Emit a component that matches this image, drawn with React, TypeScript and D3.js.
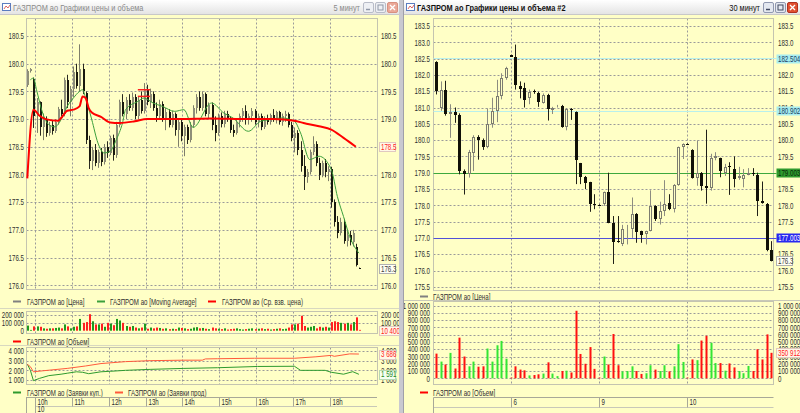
import React from "react";
import * as d3 from "d3";

// ================= LEFT WINDOW: 5-minute bars =================
const leftStartMinute = 9 * 60 + 45; // time of bar 0
const leftBarMinutes = 5;
const leftHours = [10, 11, 12, 13, 14, 15, 16, 17, 18];
const leftHourLabels = ["10h", "11h", "12h", "13h", "14h", "15h", "16h", "17h", "18h"];
const leftDayLabel = "10";

const leftOpen = [
  179.62, 179.86, 179.72, 179.05, 179.3, 178.85, 179.0, 178.75, 178.9, 178.78,
  178.95, 179.18, 179.1, 179.7, 179.3, 179.55, 179.85, 179.6, 179.9, 179.47,
  178.62, 178.25, 178.45, 178.2, 178.4, 178.22, 178.5, 178.38, 178.65, 178.35,
  178.9, 179.3, 179.1, 179.35, 179.2, 179.4, 179.05, 179.35, 179.15, 179.55,
  179.3, 179.45, 179.2, 179.05, 179.28, 179.0, 179.12, 178.9, 179.1, 178.8,
  178.95, 178.7, 178.85, 178.62, 178.9, 179.2, 179.4, 179.2, 179.45, 179.1,
  179.25, 178.9, 178.75, 179.05, 178.92, 179.1, 179.0, 178.8, 178.75, 178.95,
  179.05, 179.15, 179.0, 179.05, 179.15, 178.95, 179.05, 178.85, 179.0, 178.95,
  179.08, 179.0, 179.12, 178.95, 179.05, 179.1, 178.9, 178.65, 178.75, 178.45,
  178.15, 177.95, 178.05, 178.4, 178.55, 178.2, 178.0, 178.2, 178.05, 178.1,
  177.5, 177.15, 176.95, 177.15, 176.8, 176.9, 176.78, 176.7, 176.32,
];
const leftHigh = [
  179.9, 179.92, 179.75, 179.38, 179.32, 179.1, 179.05, 178.95, 178.98, 179.0,
  179.22, 179.35, 179.75, 179.8, 179.6, 179.95, 180.0, 180.35, 180.0, 179.5,
  178.7, 178.5, 178.55, 178.45, 178.48, 178.55, 178.6, 178.7, 178.72, 178.95,
  179.35, 179.45, 179.4, 179.45, 179.48, 179.45, 179.4, 179.5, 179.65, 179.62,
  179.55, 179.5, 179.3, 179.35, 179.32, 179.2, 179.18, 179.15, 179.12, 179.0,
  179.0, 178.9, 178.9, 178.95, 179.25, 179.45, 179.5, 179.5, 179.48, 179.3,
  179.3, 179.05, 179.1, 179.12, 179.15, 179.15, 179.05, 178.9, 179.0, 179.1,
  179.2, 179.25, 179.1, 179.2, 179.18, 179.1, 179.1, 179.05, 179.08, 179.1,
  179.18, 179.15, 179.15, 179.1, 179.15, 179.12, 178.95, 178.85, 178.8, 178.6,
  178.35, 178.1, 178.45, 178.69, 178.6, 178.3, 178.25, 178.28, 178.15, 178.14,
  177.55, 177.25, 177.22, 177.2, 176.98, 176.98, 177.0, 176.75, 176.32,
];
const leftLow = [
  179.58, 179.84, 178.84, 178.75, 178.7, 178.62, 178.68, 178.7, 178.72, 178.75,
  178.9, 179.05, 179.05, 179.2, 179.05, 179.4, 179.55, 179.5, 179.45, 178.55,
  178.1, 178.08, 178.15, 178.12, 178.15, 178.18, 178.3, 178.35, 178.25, 178.3,
  178.85, 179.05, 179.0, 179.15, 179.15, 179.0, 179.0, 179.1, 179.1, 179.25,
  179.2, 179.15, 178.95, 179.0, 178.95, 178.8, 178.85, 178.85, 178.7, 178.5,
  178.6, 178.33, 178.55, 178.58, 178.85, 179.1, 179.15, 179.15, 179.05, 179.0,
  178.8, 178.6, 178.7, 178.85, 178.85, 178.95, 178.75, 178.68, 178.72, 178.85,
  178.95, 178.9, 178.9, 178.95, 178.9, 178.85, 178.8, 178.82, 178.9, 178.9,
  178.95, 178.92, 178.9, 178.88, 178.95, 178.85, 178.6, 178.4, 178.35, 178.05,
  177.72, 177.85, 178.0, 178.35, 178.15, 177.9, 177.95, 177.95, 177.88, 177.4,
  177.06, 176.85, 176.9, 176.75, 176.7, 176.72, 176.7, 176.34, 176.3,
];
const leftClose = [
  179.86, 179.9, 179.05, 179.3, 178.85, 179.0, 178.75, 178.9, 178.78, 178.95,
  179.18, 179.1, 179.7, 179.3, 179.55, 179.85, 179.6, 179.9, 179.5, 178.62,
  178.25, 178.45, 178.2, 178.4, 178.22, 178.5, 178.38, 178.65, 178.35, 178.9,
  179.3, 179.1, 179.35, 179.2, 179.4, 179.05, 179.35, 179.15, 179.55, 179.3,
  179.45, 179.2, 179.05, 179.28, 179.0, 179.12, 178.9, 179.1, 178.8, 178.95,
  178.7, 178.85, 178.62, 178.9, 179.2, 179.4, 179.2, 179.45, 179.1, 179.25,
  178.9, 178.75, 179.05, 178.92, 179.1, 179.0, 178.8, 178.75, 178.95, 179.05,
  179.15, 178.98, 179.05, 179.15, 178.95, 179.05, 178.85, 179.0, 178.95, 179.08,
  179.0, 179.12, 178.95, 179.05, 179.1, 178.9, 178.65, 178.75, 178.45, 178.15,
  177.95, 178.05, 178.4, 178.55, 178.2, 178.0, 178.2, 178.05, 178.1, 177.5,
  177.15, 176.95, 177.15, 176.8, 176.9, 176.78, 176.95, 176.36, 176.3,
];
const leftVolumeK = [
  65, 10, 55, 55, 50, 30, 25, 30, 30, 35,
  40, 30, 80, 55, 30, 50, 55, 150, 100, 110,
  210, 120, 80, 80, 90, 50, 100, 90, 70, 150,
  130, 100, 60, 50, 60, 40, 30, 40, 90, 25,
  40, 30, 40, 35, 25, 30, 20, 25, 20, 40,
  35, 30, 20, 25, 40, 45, 30, 35, 25, 20,
  40, 30, 25, 20, 30, 15, 20, 25, 30, 20,
  15, 20, 25, 30, 20, 25, 30, 20, 25, 15,
  20, 25, 30, 20, 25, 40, 80, 80, 90, 190,
  60, 40, 50, 60, 30, 50, 40, 50, 40, 110,
  120, 110, 100, 90, 100, 80, 110, 170, 10.4,
];
// Moving average (read points: bar index, value)
const maBars = [1, 2, 3, 5, 7, 9, 11, 13, 15, 17, 18, 19, 21, 23, 25, 27, 29, 31, 32, 36, 38, 41, 44, 48, 51, 54, 60, 64, 67, 72, 76, 79, 83, 87, 89, 92, 95, 99, 101, 103, 105, 108];
const maValues = [179.71, 179.74, 179.53, 179.11, 178.9, 178.86, 178.99, 179.23, 179.38, 179.5, 179.53, 179.38, 178.99, 178.57, 178.39, 178.42, 178.63, 178.93, 179.17, 179.32, 179.38, 179.29, 179.23, 179.14, 179.17, 178.85, 179.29, 179.11, 179.02, 178.78, 178.96, 178.99, 179.02, 178.96, 178.75, 178.27, 178.33, 178.09, 177.6, 177.24, 176.88, 176.58];
// Weighted average price
const vwapBars = [0, 2, 4, 6, 10, 11, 13, 15, 17, 18, 19, 20, 21, 24, 27, 30, 35, 39, 50, 60, 70, 80, 87, 90, 95, 99, 103, 107];
const vwapValues = [177.93, 179.17, 179.06, 179.0, 178.97, 179.02, 179.15, 179.17, 179.23, 179.41, 179.38, 179.2, 179.12, 179.04, 178.94, 178.93, 178.96, 179.0, 179.0, 179.01, 179.0, 179.0, 178.97, 178.93, 178.87, 178.81, 178.66, 178.5];
// Short order marks
const orderMarkPrices = [179.53, 179.41];
const orderMarkBars = [36, 40];
// Bid / ask order counts
const buyBars = [0, 1, 2, 4, 7, 11, 13, 16, 18, 20, 24, 27, 32, 40, 51, 62, 75, 87, 89, 97, 99, 103, 106, 108];
const buyValues = [2650, 2000, 930, 1170, 1450, 1600, 1700, 1850, 1800, 1650, 1850, 1900, 2000, 2100, 2200, 2270, 2400, 2420, 2000, 2000, 1800, 1600, 1860, 1591];
const sellBars = [0, 1, 2, 5, 13, 19, 24, 32, 40, 51, 57, 58, 62, 74, 87, 94, 99, 100, 105, 108];
const sellValues = [2620, 2380, 1850, 1950, 2200, 2450, 2700, 2900, 3000, 3050, 3050, 3180, 3200, 3250, 3250, 3400, 3550, 3450, 3700, 3686];
const leftPriceTicks = [176.0, 176.5, 177.0, 177.5, 178.0, 178.5, 179.0, 179.5, 180.0, 180.5];
const leftVolTicks = [0, 100000, 200000];
const leftOrderTicks = [1000, 2000, 3000, 4000];

// ================= RIGHT WINDOW: 30-minute bars =================
const rightDayStartBars = [16, 35, 54];
const rightDayLabels = ["6", "9", "10"];
const rightOpen = [
  182.4, 181.0, 181.55, 180.8, 180.85, 180.78, 179.05, 178.95, 179.6, 180.1,
  180.0, 179.78, 180.5, 180.9, 181.35, 181.9, 182.6, 182.55, 181.67, 181.6,
  181.28, 181.5, 181.45, 181.15, 181.38, 180.92, 181.02, 181.05, 180.4, 180.96,
  180.85, 179.3, 178.86, 178.7, 178.05, 178.02, 178.03, 178.4, 177.46, 176.92,
  176.8, 177.24, 177.26, 177.74, 177.2, 177.12, 177.2, 177.98, 177.57, 177.82,
  178.07, 177.88, 178.63, 179.78, 179.88, 179.7, 178.83, 179.0, 178.6, 178.53,
  179.44, 179.45, 179.0, 179.2, 179.12, 178.83, 178.8, 178.94, 179.0, 178.92,
  178.13, 178.05, 176.64,
];
const rightHigh = [
  182.42, 181.8, 181.82, 181.1, 181.0, 180.82, 179.1, 179.7, 180.15, 180.15,
  180.05, 180.97, 181.3, 181.85, 182.05, 182.25, 182.62, 182.93, 181.8, 181.76,
  181.55, 181.55, 181.48, 181.43, 181.42, 181.02, 181.08, 181.08, 180.98, 180.98,
  180.88, 179.3, 178.9, 178.72, 178.34, 178.03, 178.42, 179.0, 177.67, 177.67,
  177.4, 177.4, 178.24, 177.76, 177.22, 177.22, 178.46, 178.0, 178.11, 178.77,
  178.34, 178.65, 179.8, 179.9, 179.9, 179.72, 179.99, 179.02, 180.32, 179.58,
  179.63, 179.46, 179.27, 179.32, 179.5, 179.18, 179.11, 179.14, 179.14, 179.0,
  178.73, 178.07, 176.9,
];
const rightLow = [
  181.4, 180.9, 180.75, 180.07, 180.53, 178.95, 178.33, 178.85, 179.05, 179.4,
  179.7, 179.75, 180.38, 180.55, 181.25, 181.85, 182.55, 181.55, 181.28, 181.0,
  181.1, 181.42, 181.02, 181.12, 180.6, 180.8, 181.0, 180.38, 180.3, 180.62,
  178.65, 178.65, 178.5, 177.8, 177.88, 177.99, 177.98, 177.45, 176.2, 176.85,
  176.75, 176.8, 177.0, 176.85, 176.85, 176.8, 177.2, 177.52, 177.41, 177.67,
  177.85, 177.78, 178.6, 179.42, 179.85, 178.82, 178.6, 178.45, 178.05, 178.45,
  179.38, 178.86, 178.9, 178.32, 178.55, 178.78, 178.55, 178.92, 178.9, 177.67,
  178.05, 176.59, 176.28,
];
const rightClose = [
  181.5, 181.55, 180.8, 180.85, 180.78, 179.05, 178.95, 179.65, 180.1, 180.0,
  179.8, 180.5, 180.9, 181.35, 181.9, 182.2, 182.56, 181.7, 181.58, 181.23,
  181.48, 181.47, 181.17, 181.38, 180.94, 181.0, 181.06, 180.4, 180.95, 180.92,
  179.38, 178.86, 178.68, 178.03, 178.02, 178.0, 178.4, 177.46, 176.88, 176.88,
  177.26, 177.27, 177.74, 177.17, 177.1, 177.2, 177.98, 177.57, 177.82, 178.05,
  177.88, 178.63, 179.78, 179.88, 179.86, 178.83, 179.0, 178.6, 178.53, 179.44,
  179.5, 179.06, 179.19, 179.17, 178.82, 178.9, 178.94, 179.0, 178.96, 178.13,
  178.08, 176.64, 176.3,
];
const rightVolumeK = [
  340, 230, 190, 350, 135, 560, 300, 165, 230, 160,
  165, 410, 230, 455, 515, 270, 10, 165, 120, 110,
  40, 45, 55, 65, 220, 65, 30, 100, 105, 80,
  930, 335, 200, 430, 130, 10, 300, 190, 610, 180,
  95, 100, 165, 100, 60, 70, 180, 120, 100, 180,
  95, 165, 470, 225, 10, 260, 250, 520, 585, 490,
  210, 210, 105, 205, 150, 100, 70, 170, 100, 400,
  260, 605, 350.912,
];
const rightLevelPrices = [182.504, 180.902, 179.003, 177.003];
const rightPriceTicks = [175.5, 176.0, 176.5, 177.0, 177.5, 178.0, 178.5, 179.0, 179.5, 180.0, 180.5, 181.0, 181.5, 182.0, 182.5, 183.0, 183.5];
const rightVolTicks = [0, 100000, 200000, 300000, 400000, 500000, 600000, 700000, 800000, 900000, 1000000];

// ================= styles =================
const BG = "#FFFFC6";
const GRID = "#9a9a9a";
const FONT = "'Liberation Sans',Arial,sans-serif";
const TXT = "#303030";
const FS = 8.8; // font size of axis / legend text
const SX = 0.7; // horizontal squeeze to mimic the narrow terminal font
const levelStyles = [
  { line: "#B8F0EC", bg: "#A8EEF0", fg: "#204060" },
  { line: "#B8F0EC", bg: "#A8EEF0", fg: "#204060" },
  { line: "#3DA83D", bg: "#2E9A2E", fg: "#0A2A0A" },
  { line: "#5050D8", bg: "#2828F0", fg: "#FFFFFF" },
];

const fmtVol = (v: number) => d3.format(",")(Math.round(v)).replace(/,/g, " ");

function T({ x, y, children, anchor = "start", fill = TXT, size = FS, sx = SX, weight = "normal" }: any) {
  return (
    <text
      transform={`translate(${x},${y}) scale(${sx},1)`}
      fontSize={size}
      fontFamily={FONT}
      fontWeight={weight}
      textAnchor={anchor}
      fill={fill}
    >
      {children}
    </text>
  );
}

function LabelBox({ x, y, text, bg, fg, border, w }: any) {
  return (
    <g>
      <rect x={x + 0.5} y={Math.round(y - 4.5) + 0.5} width={w} height={9} fill={bg} stroke={border || "none"} strokeWidth={border ? 1 : 0} />
      <T x={x + 2} y={y + 3.2} fill={fg}>{text}</T>
    </g>
  );
}

function TitleBar({ x, w, title, period, active }: any) {
  const bx = x + w - 37;
  return (
    <g>
      <rect x={x} y={0} width={w} height={15} fill="url(#tbGrad)" />
      <line x1={x} x2={x + w} y1={14.5} y2={14.5} stroke="#C8C8C8" />
      <rect x={x + 2.5} y={3.5} width={8} height={7} fill="#FFFFFF" stroke="#5A7CC0" />
      <polyline points={`${x + 4},${9} ${x + 6},${6} ${x + 8},${8} ${x + 10},${5}`} fill="none" stroke="#D04040" strokeWidth={0.8} />
      <T x={x + 13} y={10.5} size={8.6} sx={0.86} weight={active ? "bold" : "normal"} fill={active ? "#101010" : "#8A8A8A"}>{title}</T>
      <T x={bx - 3} y={10.5} size={8.6} sx={0.86} anchor="end" fill={active ? "#101010" : "#8A8A8A"}>{period}</T>
      <rect x={bx + 0.5} y={2.5} width={10} height={10} rx={1.5} fill={active ? "#E4E8F0" : "#EEF0F4"} stroke={active ? "#9098B0" : "#B8BCC8"} />
      <line x1={bx + 3} x2={bx + 7} y1={9.5} y2={9.5} stroke={active ? "#404860" : "#9098A8"} strokeWidth={1.5} />
      <rect x={bx + 12.5} y={2.5} width={10} height={10} rx={1.5} fill={active ? "#E4E8F0" : "#EEF0F4"} stroke={active ? "#9098B0" : "#B8BCC8"} />
      <rect x={bx + 15} y={5} width={5} height={5} fill="none" stroke={active ? "#404860" : "#9098A8"} />
      <rect x={bx + 24.5} y={2.5} width={10} height={10} rx={1.5} fill={active ? "#E05030" : "#EAA898"} stroke={active ? "#B03020" : "#D89080"} />
      <path d={`M${bx + 27},5 L${bx + 32},10 M${bx + 32},5 L${bx + 27},10`} stroke="#FFFFFF" strokeWidth={1.3} />
    </g>
  );
}

export default function App() {
  // ---------- left scales ----------
  const xL = d3.scaleLinear().domain([0, 108]).range([27.3, 358.9]);
  const yL = d3.scaleLinear().domain([176, 180.5]).range([285.3, 36]);
  const yLV = d3.scaleLinear().domain([0, 200000]).range([330.7, 315]);
  const yLI = d3.scaleLinear().domain([1000, 4000]).range([380, 351]);
  const hourBar = (h: number) => (h * 60 - leftStartMinute) / leftBarMinutes - 0.5;
  const hourX = leftHours.map((h) => Math.round(xL(hourBar(h))) + 0.5);

  const L = { x0: 26.5, x1: 377.5, y0: 18.5, y1: 289.5 };
  const LV = { y0: 311.5, y1: 333.5 };
  const LI = { y0: 347.5, y1: 384.5 };

  // ---------- right scales ----------
  const xR = d3.scaleLinear().domain([0, 72]).range([436, 771.3]);
  const yR = d3.scaleLinear().domain([175.5, 183.5]).range([286.8, 26]);
  const yRV = d3.scaleLinear().domain([0, 1000000]).range([378.3, 305.7]);
  const dayX = rightDayStartBars.map((b) => Math.round(xR(b)) + 0.5);
  const R = { x0: 433.5, x1: 773.5, y0: 18.5, y1: 290.5 };
  const RV = { y0: 301.5, y1: 384.5 };

  const maLine = d3.line<number>().x((_, i) => xL(maBars[i])).y((v) => yL(v)).curve(d3.curveMonotoneX);
  const vwapLine = d3.line<number>().x((_, i) => xL(vwapBars[i])).y((v) => yL(v)).curve(d3.curveMonotoneX);
  const buyLine = d3.line<number>().x((_, i) => xL(buyBars[i])).y((v) => yLI(v));
  const sellLine = d3.line<number>().x((_, i) => xL(sellBars[i])).y((v) => yLI(v));

  const dotted = { stroke: GRID, strokeWidth: 1, strokeDasharray: "2,2" };

  const leftLastVwap = vwapValues[vwapValues.length - 1];
  const leftLast = leftClose[leftClose.length - 1];
  const rightLast = rightClose[rightClose.length - 1];
  const rightLastVol = rightVolumeK[rightVolumeK.length - 1] * 1000;
  const leftLastVol = leftVolumeK[leftVolumeK.length - 1] * 1000;
  const lastSell = sellValues[sellValues.length - 1];
  const lastBuy = buyValues[buyValues.length - 1];

  // right-axis tick labels fully hidden behind marker labels
  const nearR = (t: number) => [...rightLevelPrices, rightLast].some((p) => Math.abs(yR(p) - yR(t)) < 2.5);
  const nearL = (t: number) => [leftLastVwap, leftLast].some((p) => Math.abs(yL(p) - yL(t)) < 2.5);

  return (
    <svg width={800} height={413} style={{ position: "fixed", left: 0, top: 0, display: "block" }}>
      <defs>
        <linearGradient id="tbGrad" x1="0" y1="0" x2="0" y2="1">
          <stop offset="0" stopColor="#FFFFFF" />
          <stop offset="1" stopColor="#E2E2E2" />
        </linearGradient>
        <clipPath id="leftClip"><rect x={0} y={0} width={399} height={413} /></clipPath>
        <clipPath id="rightClip"><rect x={404} y={0} width={396} height={413} /></clipPath>
      </defs>
      <rect x={0} y={0} width={800} height={413} fill={BG} />

      {/* ================= LEFT WINDOW ================= */}
      <g clipPath="url(#leftClip)">
        <TitleBar x={0} w={400} title="ГАЗПРОМ ао Графики цены и объема" period="5 минут" active={false} />

        {leftPriceTicks.map((t) => (
          <g key={"lpt" + t}>
            <line x1={L.x0} x2={L.x1} y1={Math.round(yL(t)) + 0.5} y2={Math.round(yL(t)) + 0.5} {...dotted} />
            <T x={24} y={yL(t) + 3.2} anchor="end">{t.toFixed(1)}</T>
            {!nearL(t) && <T x={381} y={yL(t) + 3.2}>{t.toFixed(1)}</T>}
          </g>
        ))}
        {hourX.map((x, i) => (
          <g key={"lhx" + i}>
            <line x1={x} x2={x} y1={L.y0} y2={L.y1} {...dotted} />
            <line x1={x} x2={x} y1={LV.y0} y2={LV.y1} {...dotted} />
            <line x1={x} x2={x} y1={LI.y0} y2={LI.y1} {...dotted} />
          </g>
        ))}
        <rect x={L.x0} y={L.y0} width={L.x1 - L.x0} height={L.y1 - L.y0} fill="none" stroke="#C4C4B0" />

        {leftOpen.map((o, i) => {
          const c = leftClose[i];
          const up = c >= o;
          const cx = Math.round(xL(i));
          const top = Math.round(yL(Math.max(o, c)));
          const h = Math.max(1, Math.round(yL(Math.min(o, c))) - top);
          return (
            <g key={"lc" + i}>
              <line x1={cx + 0.5} x2={cx + 0.5} y1={yL(leftHigh[i])} y2={yL(leftLow[i])} stroke={up ? "#7E7E6A" : "#2A2A20"} />
              <rect x={cx} y={top} width={2} height={h} fill={up ? "#8E8E78" : "#18180E"} />
            </g>
          );
        })}
        <path d={maLine(maValues) || ""} fill="none" stroke="#3CA03C" strokeWidth={1} />
        <path d={vwapLine(vwapValues) || ""} fill="none" stroke="#FF0000" strokeWidth={2} />
        {orderMarkPrices.map((p, i) => (
          <line key={"om" + i} x1={xL(orderMarkBars[0])} x2={xL(orderMarkBars[1])} y1={yL(p)} y2={yL(p)} stroke="#FF2020" strokeWidth={1.5} />
        ))}
        <LabelBox x={379} y={yL(leftLastVwap)} text={leftLastVwap.toFixed(1)} bg="#FFF8E8" fg="#FF2020" border="#E0C8C0" w={16} />
        <LabelBox x={379} y={yL(leftLast)} text={leftLast.toFixed(1)} bg="#FFFFF4" fg="#404040" border="#B0B0B0" w={16} />

        {/* price legend */}
        <line x1={13} x2={21} y1={301.5} y2={301.5} stroke="#808080" strokeWidth={2} />
        <T x={27} y={304.5}>ГАЗПРОМ ао [Цена]</T>
        <line x1={97} x2={105} y1={301.5} y2={301.5} stroke="#3CA03C" strokeWidth={2} />
        <T x={110} y={304.5}>ГАЗПРОМ ао [Moving Average]</T>
        <line x1={208} x2={216} y1={301.5} y2={301.5} stroke="#FF0000" strokeWidth={2} />
        <T x={222} y={304.5}>ГАЗПРОМ ао (Ср. взв. цена)</T>
        <line x1={0} x2={400} y1={308.5} y2={308.5} stroke="#D8D8C0" />

        {/* volume pane */}
        {leftVolTicks.map((t) => (
          <g key={"lvt" + t}>
            {t > 0 && <line x1={L.x0} x2={L.x1} y1={Math.round(yLV(t)) + 0.5} y2={Math.round(yLV(t)) + 0.5} {...dotted} />}
            <T x={24} y={yLV(t) + 3.2} anchor="end">{fmtVol(t)}</T>
            {t > 0 && <T x={381} y={yLV(t) + 3.2}>{fmtVol(t)}</T>}
          </g>
        ))}
        <rect x={L.x0} y={LV.y0} width={L.x1 - L.x0} height={LV.y1 - LV.y0} fill="none" stroke="#C4C4B0" />
        {leftVolumeK.map((v, i) => {
          const up = leftClose[i] >= leftOpen[i];
          const y = yLV(v * 1000);
          return <rect key={"lv" + i} x={Math.round(xL(i))} y={y} width={2} height={yLV(0) - y} fill={up ? "#1E9A1E" : "#FF2020"} />;
        })}
        <LabelBox x={379} y={yLV(0)} text={fmtVol(leftLastVol)} bg="#FFF8E8" fg="#FF2020" border="#E0C8C0" w={20} />
        <line x1={13} x2={21} y1={341.5} y2={341.5} stroke="#FF0000" strokeWidth={2} />
        <T x={27} y={344.5}>ГАЗПРОМ ао [Объем]</T>
        <line x1={0} x2={400} y1={345.5} y2={345.5} stroke="#D8D8C0" />

        {/* orders pane */}
        {leftOrderTicks.map((t) => (
          <g key={"lot" + t}>
            <line x1={L.x0} x2={L.x1} y1={Math.round(yLI(t)) + 0.5} y2={Math.round(yLI(t)) + 0.5} {...dotted} />
            <T x={24} y={yLI(t) + 3.2} anchor="end">{fmtVol(t)}</T>
            <T x={381} y={yLI(t) + 3.2}>{fmtVol(t)}</T>
          </g>
        ))}
        <rect x={L.x0} y={LI.y0} width={L.x1 - L.x0} height={LI.y1 - LI.y0} fill="none" stroke="#C4C4B0" />
        <path d={buyLine(buyValues) || ""} fill="none" stroke="#2E9A2E" strokeWidth={1} />
        <path d={sellLine(sellValues) || ""} fill="none" stroke="#FF5A3C" strokeWidth={1} />
        <LabelBox x={379} y={yLI(lastSell)} text={fmtVol(lastSell)} bg="#FFF8E8" fg="#FF2020" border="#E0C8C0" w={16} />
        <LabelBox x={379} y={yLI(lastBuy)} text={fmtVol(lastBuy)} bg="#F4FFF0" fg="#1E8A1E" border="#B8D8B0" w={16} />
        <line x1={13} x2={21} y1={392.5} y2={392.5} stroke="#2E9A2E" strokeWidth={2} />
        <T x={27} y={395.5}>ГАЗПРОМ ао (Заявки куп.)</T>
        <line x1={115} x2={123} y1={392.5} y2={392.5} stroke="#FF5A3C" strokeWidth={2} />
        <T x={128} y={395.5}>ГАЗПРОМ ао (Заявки прод)</T>

        {/* time axis */}
        <line x1={26} x2={377} y1={397.5} y2={397.5} stroke="#A8A898" />
        <line x1={hourX[0]} x2={377} y1={406.5} y2={406.5} stroke="#C8C8B8" />
        <line x1={26.5} x2={26.5} y1={397.5} y2={413} stroke="#A8A898" />
        {hourX.map((x, i) => (
          <g key={"lax" + i}>
            <line x1={x} x2={x} y1={397.5} y2={i === 0 ? 413 : 406.5} stroke="#A8A898" />
            <T x={x + 2} y={404.8}>{leftHourLabels[i]}</T>
          </g>
        ))}
        <T x={hourX[0] + 2} y={411.8}>{leftDayLabel}</T>
      </g>

      {/* window divider */}
      <rect x={399} y={0} width={5} height={413} fill="#C9C9D0" />
      <line x1={403.5} x2={403.5} y1={0} y2={413} stroke="#A0A0A8" />

      {/* ================= RIGHT WINDOW ================= */}
      <g clipPath="url(#rightClip)">
        <TitleBar x={404} w={396} title="ГАЗПРОМ ао Графики цены и объема #2" period="30 минут" active={true} />

        {rightPriceTicks.map((t) => (
          <g key={"rpt" + t}>
            <line x1={R.x0} x2={R.x1} y1={Math.round(yR(t)) + 0.5} y2={Math.round(yR(t)) + 0.5} {...dotted} />
            <T x={430} y={yR(t) + 3.2} anchor="end">{t.toFixed(1)}</T>
            {!nearR(t) && <T x={778} y={yR(t) + 3.2}>{t.toFixed(1)}</T>}
          </g>
        ))}
        {dayX.map((x, i) => (
          <g key={"rdx" + i}>
            <line x1={x} x2={x} y1={R.y0} y2={R.y1} {...dotted} />
            <line x1={x} x2={x} y1={RV.y0} y2={RV.y1} {...dotted} />
          </g>
        ))}
        <rect x={R.x0} y={R.y0} width={R.x1 - R.x0} height={R.y1 - R.y0} fill="none" stroke="#C4C4B0" />

        {rightLevelPrices.map((p, i) => (
          <line key={"rl" + i} x1={R.x0} x2={R.x1 + 3} y1={Math.round(yR(p)) + 0.5} y2={Math.round(yR(p)) + 0.5} stroke={levelStyles[i].line} strokeWidth={1} />
        ))}

        {rightOpen.map((o, i) => {
          const c = rightClose[i];
          const up = c >= o;
          const cx = Math.round(xR(i));
          const top = Math.round(yR(Math.max(o, c)));
          const h = Math.max(1, Math.round(yR(Math.min(o, c))) - top);
          return (
            <g key={"rc" + i}>
              <line x1={cx + 0.5} x2={cx + 0.5} y1={yR(rightHigh[i])} y2={yR(rightLow[i])} stroke={up ? "#8C8C80" : "#202018"} />
              {up ? (
                <rect x={cx - 1 + 0.5} y={top + 0.5} width={2} height={Math.max(0, h - 1)} fill={BG} stroke="#7C7C70" />
              ) : (
                <rect x={cx - 1} y={top} width={3} height={h} fill="#101008" />
              )}
            </g>
          );
        })}

        {rightLevelPrices.map((p, i) => (
          <LabelBox key={"rlb" + i} x={776} y={yR(p)} text={p.toFixed(3)} bg={levelStyles[i].bg} fg={levelStyles[i].fg} w={24} />
        ))}
        <LabelBox x={776} y={yR(rightLast)} text={rightLast.toFixed(1)} bg="#FFFFF4" fg="#404040" border="#B0B0B0" w={16} />

        <line x1={420} x2={428} y1={296.5} y2={296.5} stroke="#808080" strokeWidth={2} />
        <T x={433} y={299.5}>ГАЗПРОМ ао [Цена]</T>
        <line x1={404} x2={800} y1={300.5} y2={300.5} stroke="#C8C8B8" />

        {rightVolTicks.map((t) => (
          <g key={"rvt" + t}>
            <line x1={R.x0} x2={R.x1} y1={Math.round(yRV(t)) + 0.5} y2={Math.round(yRV(t)) + 0.5} {...dotted} />
            <T x={430} y={yRV(t) + 3.2} anchor="end">{fmtVol(t)}</T>
            <T x={778} y={yRV(t) + 3.2}>{fmtVol(t)}</T>
          </g>
        ))}
        <rect x={R.x0} y={RV.y0} width={R.x1 - R.x0} height={RV.y1 - RV.y0} fill="none" stroke="#C4C4B0" />
        {rightVolumeK.map((v, i) => {
          const up = rightClose[i] >= rightOpen[i];
          const y = yRV(v * 1000);
          return <rect key={"rv" + i} x={Math.round(xR(i)) - 0.5} y={y} width={2} height={yRV(0) - y} fill={up ? "#33E633" : "#FF1010"} />;
        })}
        <LabelBox x={776} y={yRV(rightLastVol)} text={fmtVol(rightLastVol)} bg="#FFF8E8" fg="#FF2020" border="#E0C8C0" w={24} />

        <line x1={420} x2={428} y1={392.5} y2={392.5} stroke="#FF0000" strokeWidth={2} />
        <T x={433} y={395.5}>ГАЗПРОМ ао [Объем]</T>

        <line x1={R.x0} x2={R.x1} y1={397.5} y2={397.5} stroke="#A8A898" />
        <line x1={R.x0} x2={R.x1} y1={407.5} y2={407.5} stroke="#C8C8B8" />
        <line x1={R.x0} x2={R.x0} y1={397.5} y2={413} stroke="#A8A898" />
        {dayX.map((x, i) => (
          <g key={"rax" + i}>
            <line x1={x} x2={x} y1={397.5} y2={407.5} stroke="#A8A898" />
            <T x={x + 2} y={405}>{rightDayLabels[i]}</T>
          </g>
        ))}
      </g>
    </svg>
  );
}
